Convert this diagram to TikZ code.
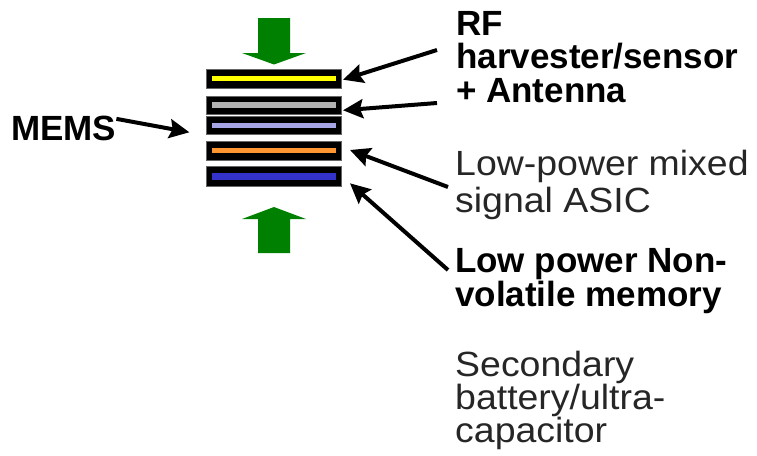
\documentclass[tikz,border=0pt]{standalone}
\usepackage{fontspec}
\setmainfont{Liberation Sans}
\newfontfamily\widefont{Liberation Sans}[FakeStretch=1.07]
\usetikzlibrary{arrows.meta}

\definecolor{padgreen}{RGB}{0,128,0}
\definecolor{barYellow}{RGB}{255,255,0}
\definecolor{barGray}{RGB}{178,178,178}
\definecolor{barLilac}{RGB}{166,166,230}
\definecolor{barOrange}{RGB}{255,150,50}
\definecolor{barBlue}{RGB}{51,51,204}

\tikzset{
  layer/.style={fill=black, draw=black!60, line width=0.6pt, minimum width=135pt, inner sep=0pt},
  bar/.style={minimum width=123.4pt, inner sep=0pt},
  boldlbl/.style={font={\fontsize{35}{33.5}\selectfont\bfseries}, align=left, inner sep=0pt, anchor=base west},
  plainlbl/.style={font={\widefont\fontsize{35}{36.7}\selectfont}, align=left, inner sep=0pt, anchor=base west, text=black!85},
  pointer/.style={line width=4pt, -{Stealth[length=20pt, width=19pt, inset=3pt]}},
  press/.style={fill=padgreen, draw=none}
}

\begin{document}
\begin{tikzpicture}[x=1pt, y=-1pt]
\useasboundingbox (0,0) rectangle (757,455);

% stack of layers
\node[layer, minimum height=19.3pt] (l1) at (274.2,78.7) {};
\node[layer, minimum height=18.7pt] (l2) at (274.2,105.3) {};
\node[layer, minimum height=18.7pt] (l3) at (274.2,125.3) {};
\node[layer, minimum height=19.4pt] (l4) at (274.2,151) {};
\node[layer, minimum height=19.3pt] (l5) at (274.2,176.3) {};
\node[bar, fill=barYellow, minimum height=5pt] (b1) at (274,78.8) {};
\node[bar, fill=barGray, minimum height=6pt] (b2) at (274,105.3) {};
\node[bar, fill=barLilac, minimum height=4.7pt] (b3) at (274,125.6) {};
\node[bar, fill=barOrange, minimum height=5pt] (b4) at (274,150.8) {};
\node[bar, fill=barBlue, minimum height=6.7pt] (b5) at (274,176.6) {};

% pressing arrows
\fill[press] (258,18) -- (290,18) -- (290,53) -- (306,53) -- (274,64.5) -- (242,53) -- (258,53) -- cycle;
\fill[press] (274,207) -- (306,219) -- (290,219) -- (290,253) -- (258,253) -- (258,219) -- (242,219) -- cycle;

% labels (base = last line)
\node[boldlbl] (mems) at (11,140) {MEMS};
\node[boldlbl] (rf) at (456,102) {RF\\harvester/sensor\\+ Antenna};
\node[plainlbl] (asic) at (455,212) {Low-power mixed\\signal ASIC};
\node[boldlbl, font={\fontsize{35}{31.5}\selectfont\bfseries}] (nvm) at (455,306) {Low power Non-\\volatile memory};
\node[plainlbl, font={\widefont\fontsize{35}{33}\selectfont}] (batt) at (455,442) {Secondary\\battery/ultra-\\capacitor};

% pointers
\draw[pointer] ([shift={(0,3.5)}]mems.north east) -- ([shift={(-17,7)}]l3.west);
\draw[pointer] ([shift={(-19,-52)}]rf.base west) -- ([shift={(1,1)}]l1.east);
\draw[pointer] ([shift={(-19,1)}]rf.base west) -- ([shift={(1,5)}]l2.east);
\draw[pointer] ([shift={(-7,-25)}]asic.base west) -- ([shift={(8,-1)}]l4.east);
\draw[pointer] ([shift={(-7,-36)}]nvm.base west) -- ([shift={(8,7)}]l5.east);
\end{tikzpicture}
\end{document}
